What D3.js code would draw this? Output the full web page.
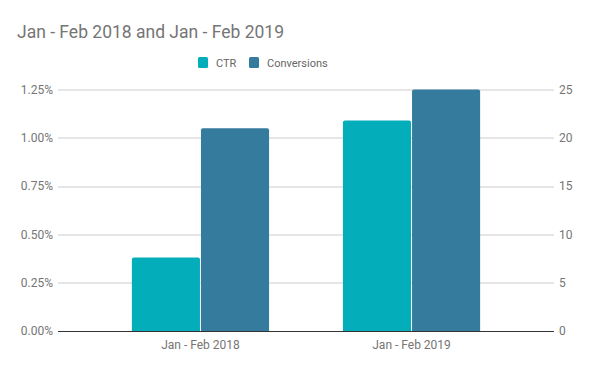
<!DOCTYPE html>
<meta charset="utf-8">
<style>
body { margin: 0; background: #fff; font-family: Roboto, sans-serif; }
.grid line { stroke: #cccccc; stroke-width: 1px; }
.axis text { fill: #757575; font-size: 12px; font-family: Roboto, sans-serif; }
</style>
<body>
<script src="https://d3js.org/d3.v7.min.js"></script>
<script>

// data
var periods = ["Jan - Feb 2018", "Jan - Feb 2019"];
var ctr = [0.0038, 0.0109];
var conversions = [21, 25];
var leftTicks = [0, 0.0025, 0.005, 0.0075, 0.01, 0.0125];
var rightTicks = [0, 5, 10, 15, 20, 25];

var W = 600, H = 371;
var margin = {top: 89.5, right: 46, bottom: 40, left: 58};
var width = W - margin.left - margin.right,
    height = H - margin.top - margin.bottom;

var svg = d3.select("body").append("svg")
    .attr("width", W)
    .attr("height", H);

// title
svg.append("text")
    .attr("x", 17).attr("y", 38)
    .attr("fill", "#757575")
    .style("font-size", "17.5px")
    .style("font-family", "Roboto, sans-serif")
    .text("Jan - Feb 2018 and Jan - Feb 2019");

// legend
var legend = [{name: "CTR", color: "#03aeba"}, {name: "Conversions", color: "#357b9e"}];
var lx = [198, 249];
legend.forEach(function(d, i) {
  svg.append("rect")
    .attr("x", lx[i]).attr("y", 57)
    .attr("width", 10).attr("height", 11).attr("rx", 1.5)
    .attr("fill", d.color);
  svg.append("text")
    .attr("x", lx[i] + 18).attr("y", 67)
    .attr("fill", "#666")
    .style("font-size", "11px")
    .text(d.name);
});

var g = svg.append("g")
    .attr("transform", "translate(" + margin.left + "," + margin.top + ")");

// scales
var x0 = d3.scaleBand().domain(periods).range([0, width])
    .paddingInner(0.35).paddingOuter(0.35);
var x1 = d3.scaleBand().domain(["ctr", "conv"]).range([0, x0.bandwidth()]);
var yL = d3.scaleLinear().domain([0, 0.0125]).range([height, 0]);
var yR = d3.scaleLinear().domain([0, 25]).range([height, 0]);

// gridlines
g.append("g").attr("class", "grid")
  .selectAll("line").data(leftTicks.slice(1)).enter().append("line")
    .attr("x1", 0).attr("x2", width)
    .attr("y1", function(d) { return Math.round(yL(d)) + 0.5; })
    .attr("y2", function(d) { return Math.round(yL(d)) + 0.5; });

// bar path with rounded top corners
function barPath(x, y, w, h) {
  var r = Math.min(2, h);
  return "M" + x + "," + (y + h) + "V" + (y + r) + "Q" + x + "," + y + " " + (x + r) + "," + y +
         "H" + (x + w - r) + "Q" + (x + w) + "," + y + " " + (x + w) + "," + (y + r) +
         "V" + (y + h) + "Z";
}

var groups = g.selectAll(".grp").data(periods).enter().append("g")
    .attr("transform", function(d) { return "translate(" + x0(d) + ",0)"; });

groups.append("path")
    .attr("fill", legend[0].color)
    .attr("d", function(d, i) {
      return barPath(x1("ctr"), yL(ctr[i]), x1.bandwidth() - 0.5, height - yL(ctr[i]));
    });

groups.append("path")
    .attr("fill", legend[1].color)
    .attr("d", function(d, i) {
      return barPath(x1("conv") + 0.5, yR(conversions[i]), x1.bandwidth() - 0.5, height - yR(conversions[i]));
    });

// baseline
g.append("line")
    .attr("x1", 0).attr("x2", width)
    .attr("y1", height + 0.5).attr("y2", height + 0.5)
    .attr("stroke", "#333").attr("stroke-width", 1);

// left axis
var axL = g.append("g").attr("class", "axis")
    .call(d3.axisLeft(yL).tickValues(leftTicks).tickSize(0).tickPadding(5)
      .tickFormat(d3.format(".2%")));
axL.select(".domain").remove();

// right axis
var axR = g.append("g").attr("class", "axis")
    .attr("transform", "translate(" + width + ",0)")
    .call(d3.axisRight(yR).tickValues(rightTicks).tickSize(0).tickPadding(5));
axR.select(".domain").remove();

// bottom axis
var axB = g.append("g").attr("class", "axis")
    .attr("transform", "translate(0," + height + ")")
    .call(d3.axisBottom(x0).tickSize(0).tickPadding(9));
axB.select(".domain").remove();

</script>
</body>
